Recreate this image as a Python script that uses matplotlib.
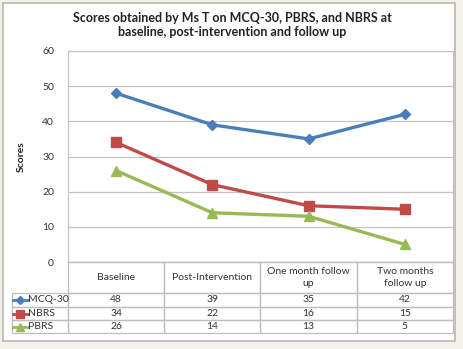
import numpy as np
import matplotlib.pyplot as plt
from matplotlib.lines import Line2D
from matplotlib.patches import Rectangle

# data
categories = ["Baseline", "Post-Intervention", "One month follow\nup", "Two months\nfollow up"]
series_names = ["MCQ-30", "NBRS", "PBRS"]
mcq30 = [48, 39, 35, 42]
nbrs = [34, 22, 16, 15]
pbrs = [26, 14, 13, 5]
yticks = [0, 10, 20, 30, 40, 50, 60]

colors = ["#4a7ebb", "#be4b48", "#98b954"]
markers = ["D", "s", "^"]
msizes = [5.5, 6.5, 6.5]

plt.rcParams['font.family'] = ['Lato', 'DejaVu Sans']

W, H = 464, 349
fig = plt.figure(figsize=(W / 100, H / 100), dpi=100)
fig.patch.set_facecolor("#f1f1ea")
# white chart area with gray border
fig.add_artist(Rectangle((3 / W, 1 - 341 / H), 452 / W, 338 / H, transform=fig.transFigure,
                         facecolor="white", edgecolor="#b8b8b0", lw=1.2, zorder=-10))

x0, x1, ytop, ybot = 68, 453, 51, 262
ax = fig.add_axes([x0 / W, 1 - ybot / H, (x1 - x0) / W, (ybot - ytop) / H])
ax.set_facecolor("none")
x = np.arange(len(categories))
for vals, c, m, ms in zip([mcq30, nbrs, pbrs], colors, markers, msizes):
    ax.plot(x, vals, color=c, lw=2.4, marker=m, ms=ms, zorder=3)

ax.set_xlim(-0.5, len(categories) - 0.5)
ax.set_ylim(0, 60)
ax.set_yticks(yticks)
ax.set_xticks([])
ax.tick_params(axis="y", length=0, labelsize=7.5, pad=10, colors="#333333")
ax.grid(axis="y", color="#c4c4c4", lw=0.9)
ax.set_axisbelow(True)
for s in ax.spines.values():
    s.set_color("#c4c4c4")
    s.set_linewidth(0.9)
ax.set_ylabel("Scores", fontsize=7.5, fontweight="bold", labelpad=12, color="#222222")

fig.text(0.5, 1 - 25 / H,
         "Scores obtained by Ms T on MCQ-30, PBRS, and NBRS at\nbaseline, post-intervention and follow up",
         ha="center", va="center", fontsize=9, fontweight="bold", color="#222222",
         linespacing=1.3)

# data table under the axes
cell_text = [[str(v) for v in row] for row in [mcq30, nbrs, pbrs]]
tab_left = 12
row_h = [31, 14, 13, 13]
col_w = (x1 - x0) / len(categories)
ec = "#bdbdbd"

def fx(px):
    return px / W

def fy(py):
    return 1 - py / H

# header row
y = ybot
for j, cat in enumerate(categories):
    cx = x0 + j * col_w
    fig.add_artist(Rectangle((fx(cx), fy(y + row_h[0])), col_w / W, row_h[0] / H,
                             transform=fig.transFigure, fill=False, ec=ec, lw=0.9))
    fig.text(fx(cx + col_w / 2), fy(y + row_h[0] / 2), cat, ha="center", va="center",
             fontsize=7.5, color="#333333", linespacing=1.4)
y += row_h[0]
for i, name in enumerate(series_names):
    h = row_h[i + 1]
    fig.add_artist(Rectangle((fx(tab_left), fy(y + h)), (x0 - tab_left) / W, h / H,
                             transform=fig.transFigure, fill=False, ec=ec, lw=0.9))
    ym = fy(y + h / 2)
    fig.add_artist(Line2D([fx(tab_left + 1), fx(tab_left + 16)], [ym, ym],
                          transform=fig.transFigure, color=colors[i], lw=2))
    fig.add_artist(Line2D([fx(tab_left + 8.5)], [ym], transform=fig.transFigure,
                          color=colors[i], marker=markers[i], ms=msizes[i] - 1, lw=0))
    fig.text(fx(tab_left + 16), ym, name, ha="left", va="center", fontsize=7.5, color="#333333")
    for j in range(len(categories)):
        cx = x0 + j * col_w
        fig.add_artist(Rectangle((fx(cx), fy(y + h)), col_w / W, h / H,
                                 transform=fig.transFigure, fill=False, ec=ec, lw=0.9))
        fig.text(fx(cx + col_w / 2), ym, cell_text[i][j], ha="center", va="center",
                 fontsize=7.5, color="#333333")
    y += h

fig.savefig("out.png", dpi=100, facecolor=fig.get_facecolor())
